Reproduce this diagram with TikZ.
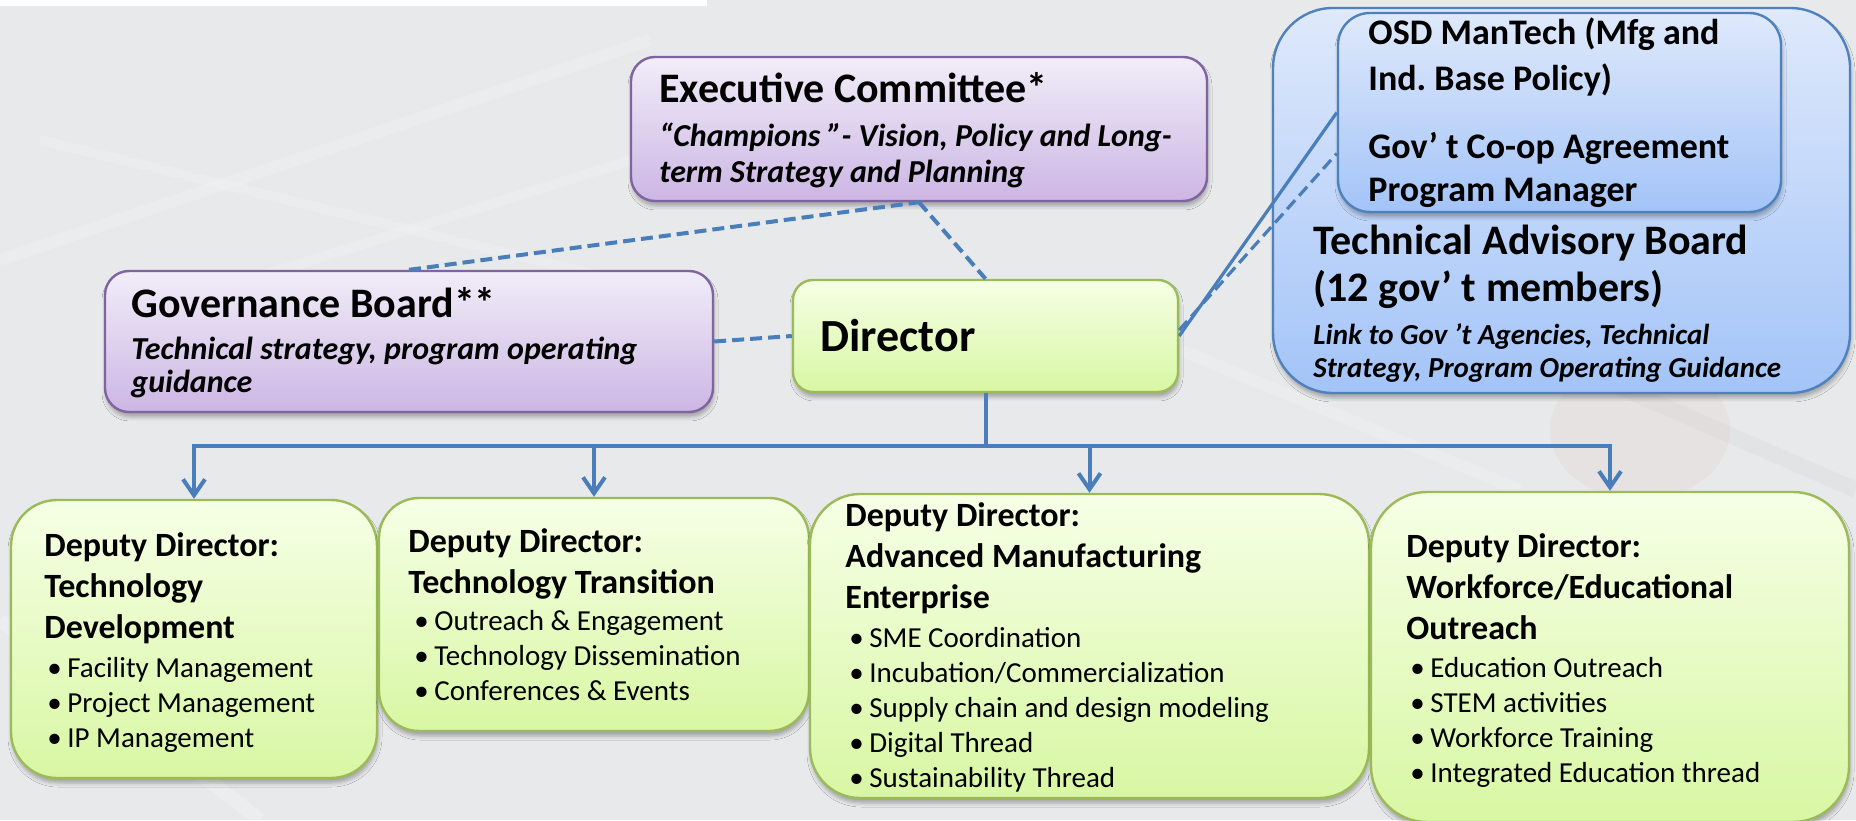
\documentclass[tikz,border=0pt]{standalone}
\usepackage{fontspec}
\setmainfont{Carlito}
\usetikzlibrary{arrows.meta,calc,shadows.blur}

\definecolor{bgGray}{HTML}{E7E9EA}
\definecolor{lineBlue}{HTML}{4A7EBB}
\definecolor{purpleLine}{HTML}{8064A2}
\definecolor{purpleTop}{HTML}{F1EDF8}
\definecolor{purpleBot}{HTML}{CCB6E4}
\definecolor{greenLine}{HTML}{9BBB59}
\definecolor{greenTop}{HTML}{F6FFE6}
\definecolor{greenBot}{HTML}{D8F7A3}
\definecolor{blueLine}{HTML}{4F81BD}
\definecolor{blueTop}{HTML}{DFE9FB}
\definecolor{blueBot}{HTML}{A3C4F8}

% font sizes for the chart
\newcommand{\headFont}{\fontsize{21pt}{25pt}\selectfont\bfseries}
\newcommand{\noteFont}{\fontsize{16pt}{19pt}\selectfont\bfseries\itshape}
\newcommand{\smallNoteFont}{\fontsize{14.5pt}{17pt}\selectfont\bfseries\itshape}
\newcommand{\osdFont}{\fontsize{18pt}{22pt}\selectfont\bfseries}
\newcommand{\deputyFont}{\fontsize{17pt}{20pt}\selectfont\bfseries}
\newcommand{\itemFont}{\fontsize{14.5pt}{17pt}\selectfont}
\newcommand{\bul}{\makebox[10pt][l]{\textbullet}}

\tikzset{%
  box/.style={rounded corners=#1, line width=1.2pt,
    blur shadow={shadow xshift=0.5pt, shadow yshift=-2.5pt,
                 shadow blur radius=2pt, shadow opacity=30}},
  purplebox/.style={box=#1, draw=purpleLine, top color=purpleTop, bottom color=purpleBot},
  greenbox/.style={box=#1, draw=greenLine, top color=greenTop, bottom color=greenBot},
  bluebox/.style={box=#1, draw=blueLine, top color=blueTop, bottom color=blueBot},
  txt/.style={inner sep=0pt, anchor=base west, text=black},
  conn/.style={draw=lineBlue, line width=2pt},
  dashconn/.style={conn, dash pattern=on 6pt off 3pt},
  tip/.style={-{Straight Barb[length=8pt,width=11pt]}}
}

\begin{document}
\frenchspacing
\begin{tikzpicture}[x=0.5pt,y=0.5pt]
\useasboundingbox (0,0) rectangle (1856,820);

% background
\fill[bgGray] (0,0) rectangle (1856,820);
\fill[white] (0,814) rectangle (707,820);
\draw[white, opacity=0.18, line width=6pt] (0,560) -- (650,780);
\draw[white, opacity=0.15, line width=5pt] (40,680) -- (700,520);
\draw[white, opacity=0.15, line width=5pt] (120,500) -- (760,700);
\draw[white, opacity=0.2, line width=7pt] (0,200) -- (260,0);
\draw[white, opacity=0.15, line width=6pt] (1180,470) -- (1520,330);
\draw[gray, opacity=0.05, line width=8pt] (1420,520) -- (1856,330);
\fill[red!40!brown, opacity=0.04] (1640,390) ellipse (90 and 70);

% boxes
\node[purplebox=12pt, minimum width=288pt, minimum height=72pt] (execNode) at (919,691) {};
\node[purplebox=12pt, minimum width=304pt, minimum height=70.5pt] (govNode) at (409,478.5) {};
\node[greenbox=10pt, minimum width=192.5pt, minimum height=56pt] (dirNode) at (985.5,484) {};
\node[bluebox=30pt, minimum width=288.5pt, minimum height=192.5pt] (tabNode) at (1561.5,619.5) {};
\node[bluebox=16pt, minimum width=221.5pt, minimum height=99.5pt] (osdNode) at (1559.5,707.5) {};
\node[greenbox=23pt, minimum width=183pt, minimum height=139pt] (ddaNode) at (194,181) {};
\node[greenbox=20pt, minimum width=215pt, minimum height=116.5pt] (ddbNode) at (594,205.5) {};
\node[greenbox=25pt, minimum width=279.5pt, minimum height=152pt] (ddcNode) at (1089.5,174) {};
\node[greenbox=28pt, minimum width=239pt, minimum height=165pt] (dddNode) at (1610,163) {};

% dashed links
\draw[dashconn] (govNode.north) -- (execNode.south);
\draw[dashconn] (execNode.south) -- (dirNode.north);
\draw[dashconn] (govNode.east) -- (dirNode.west);
\draw[conn, line width=1.6pt] (dirNode.east) -- (osdNode.west);
\draw[dashconn, line width=1.6pt] ([yshift=3pt]dirNode.east) -- ([yshift=-20.5pt]osdNode.west);

% director to deputies
\draw[conn] (dirNode.south) -- ++(0,-53) coordinate (busNode);
\draw[conn, tip] (busNode) -| (ddaNode.north);
\draw[conn, tip] (busNode) -| (ddbNode.north);
\draw[conn, tip] (busNode) -| (ddcNode.north);
\draw[conn, tip] (busNode) -| (dddNode.north);

% texts
\node[txt] (execT1) at (659,717) {\headFont Executive Committee*};
\node[txt] (execT2) at (659,673) {\noteFont “Champions ”- Vision, Policy and Long-};
\node[txt] (execT3) at (659,637) {\noteFont term Strategy and Planning};

\node[txt] (govT1) at (131,502) {\headFont Governance Board**};
\node[txt] (govT2) at (131,460) {\noteFont Technical strategy, program operating};
\node[txt] (govT3) at (131,427) {\noteFont guidance};

\node[txt] (dirT) at (820,468) {\fontsize{23pt}{27pt}\selectfont\bfseries Director};

\node[txt] (osdT1) at (1368,775) {\osdFont OSD ManTech (Mfg and};
\node[txt] (osdT2) at (1368,729) {\osdFont Ind. Base Policy)};
\node[txt] (osdT3) at (1368,661) {\osdFont Gov’ t Co-op Agreement};
\node[txt] (osdT4) at (1368,618) {\osdFont Program Manager};

\node[txt] (tabT1) at (1313,565) {\headFont Technical Advisory Board};
\node[txt] (tabT2) at (1313,518) {\headFont (12 gov’ t members)};
\node[txt] (tabT3) at (1313,475) {\smallNoteFont Link to Gov ’t Agencies, Technical};
\node[txt] (tabT4) at (1313,442) {\smallNoteFont Strategy, Program Operating Guidance};

\node[txt] (ddaT1) at (44,264) {\deputyFont Deputy Director:};
\node[txt] (ddaT2) at (44,223) {\deputyFont Technology};
\node[txt] (ddaT3) at (44,182) {\deputyFont Development};
\node[txt] (ddaI1) at (47,143) {\itemFont\bul Facility Management};
\node[txt] (ddaI2) at (47,108) {\itemFont\bul Project Management};
\node[txt] (ddaI3) at (47,73) {\itemFont\bul IP Management};

\node[txt] (ddbT1) at (408,268) {\deputyFont Deputy Director:};
\node[txt] (ddbT2) at (408,227) {\deputyFont Technology Transition};
\node[txt] (ddbI1) at (414,190) {\itemFont\bul Outreach \& Engagement};
\node[txt] (ddbI2) at (414,155) {\itemFont\bul Technology Dissemination};
\node[txt] (ddbI3) at (414,120) {\itemFont\bul Conferences \& Events};

\node[txt] (ddcT1) at (845,294) {\deputyFont Deputy Director:};
\node[txt] (ddcT2) at (845,253) {\deputyFont Advanced Manufacturing};
\node[txt] (ddcT3) at (845,212) {\deputyFont Enterprise};
\node[txt] (ddcI1) at (849,173) {\itemFont\bul SME Coordination};
\node[txt] (ddcI2) at (849,138) {\itemFont\bul Incubation/Commercialization};
\node[txt] (ddcI3) at (849,103) {\itemFont\bul Supply chain and design modeling};
\node[txt] (ddcI4) at (849,68) {\itemFont\bul Digital Thread};
\node[txt] (ddcI5) at (849,33) {\itemFont\bul Sustainability Thread};

\node[txt] (dddT1) at (1406,263) {\deputyFont Deputy Director:};
\node[txt] (dddT2) at (1406,222) {\deputyFont Workforce/Educational};
\node[txt] (dddT3) at (1406,181) {\deputyFont Outreach};
\node[txt] (dddI1) at (1410,143) {\itemFont\bul Education Outreach};
\node[txt] (dddI2) at (1410,108) {\itemFont\bul STEM activities};
\node[txt] (dddI3) at (1410,73) {\itemFont\bul Workforce Training};
\node[txt] (dddI4) at (1410,38) {\itemFont\bul Integrated Education thread};
\end{tikzpicture}
\end{document}
